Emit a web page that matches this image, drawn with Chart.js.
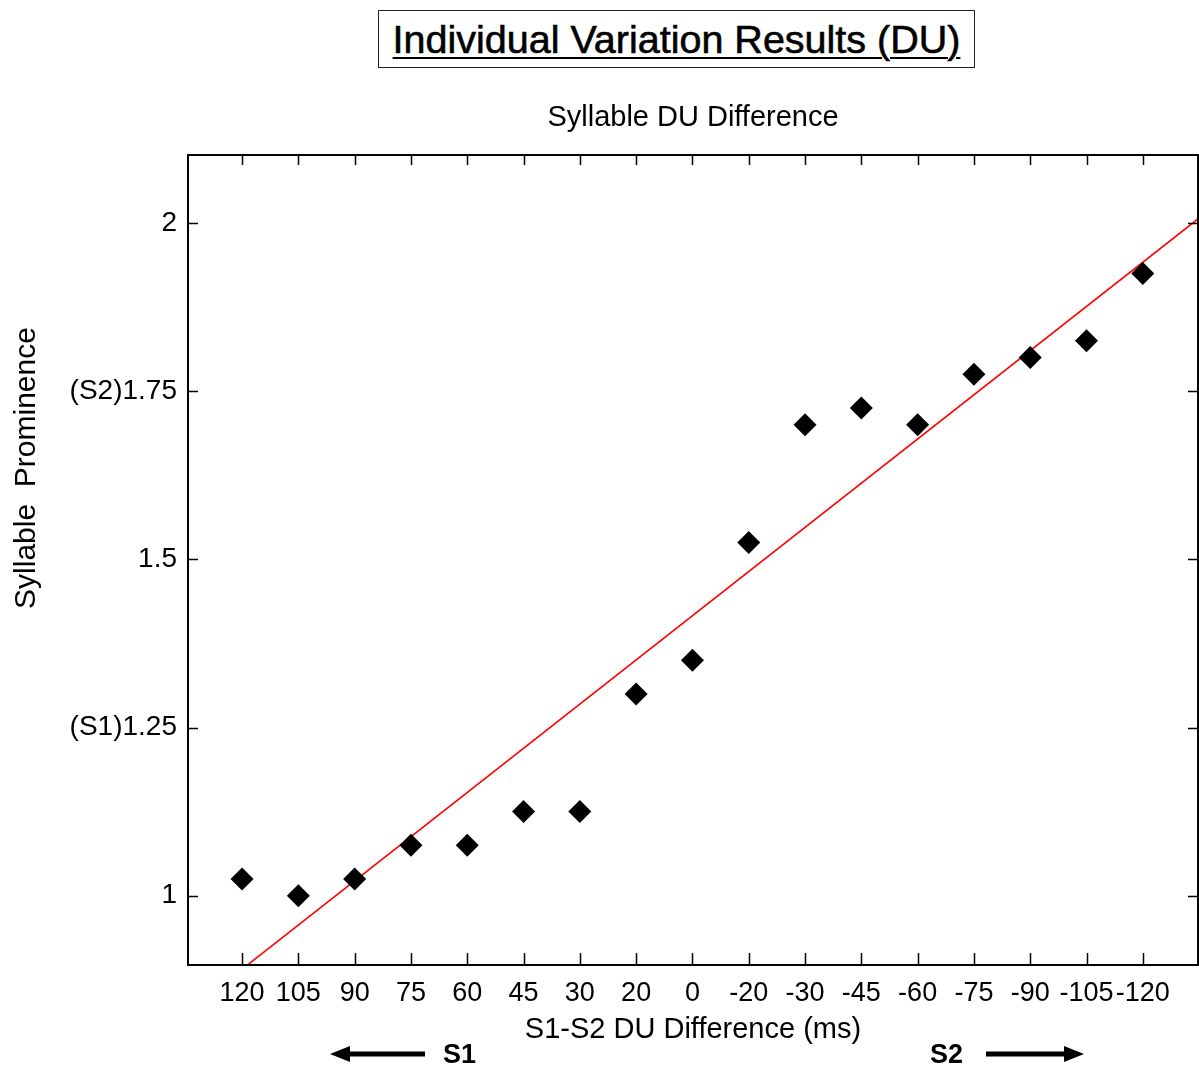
<!DOCTYPE html>
<html>
<head>
<meta charset="utf-8">
<script src="https://cdn.jsdelivr.net/npm/chart.js@4/dist/chart.umd.min.js"></script>
<style>
  body { margin: 0; background: #fff; }
  #wrap { position: relative; width: 1199px; height: 1078px; }
  #title {
    position: absolute; left: 378px; top: 10px; width: 595px; height: 56px;
    border: 1.5px solid #222; box-sizing: content-box;
    font: 39.5px 'Liberation Sans', Arial, sans-serif; color: #000;
    text-align: center; line-height: 56px; text-decoration: underline;
    text-underline-offset: 4px; text-decoration-thickness: 2px;
    -webkit-text-stroke: 0.6px #000;
  }
  canvas { position: absolute; left: 0; top: 0; }
</style>
</head>
<body>
<div id="wrap">
  <div id="title">Individual Variation Results (DU)</div>
  <canvas id="chart" width="1199" height="1078"></canvas>
</div>
<script>
const xLabels = ['120', '105', '90', '75', '60', '45', '30', '20', '0', '-20', '-30', '-45', '-60', '-75', '-90', '-105', '-120']
const prominence = [1.025, 1.0, 1.025, 1.075, 1.075, 1.125, 1.125, 1.3, 1.35, 1.525, 1.7, 1.725, 1.7, 1.775, 1.8, 1.825, 1.925]
const yTicks = [1, 1.25, 1.5, 1.75, 2]
const yTickLabels = ['1', '(S1)1.25', '1.5', '(S2)1.75', '2']

const FONT = "'Liberation Sans', Arial, sans-serif"
const xMin = -0.96
const xMax = 16.98

// least squares fit over the category index
const n = prominence.length
const mx = (n - 1) / 2
const my = prominence.reduce((a, b) => a + b, 0) / n
let sxy = 0, sxx = 0
prominence.forEach((y, i) => { sxy += (i - mx) * (y - my); sxx += (i - mx) * (i - mx) })
const slope = sxy / sxx
const fit = x => my + slope * (x - mx)

const framePlugin = {
  id: 'frame',
  afterDraw(chart) {
    const { ctx, chartArea: a, scales } = chart
    ctx.save()
    ctx.strokeStyle = '#000'
    ctx.lineWidth = 2
    ctx.strokeRect(a.left, a.top, a.right - a.left, a.bottom - a.top)
    ctx.lineWidth = 1.5
    ctx.beginPath()
    scales.y.ticks.forEach(t => {
      const py = Math.round(scales.y.getPixelForValue(t.value)) + 0.5
      ctx.moveTo(a.left, py); ctx.lineTo(a.left + 10, py)
      ctx.moveTo(a.right, py); ctx.lineTo(a.right - 10, py)
    })
    scales.x.ticks.forEach(t => {
      const px = Math.round(scales.x.getPixelForValue(t.value)) + 0.5
      ctx.moveTo(px, a.bottom); ctx.lineTo(px, a.bottom - 12)
      ctx.moveTo(px, a.top); ctx.lineTo(px, a.top + 10)
    })
    ctx.stroke()

    ctx.fillStyle = '#000'
    ctx.textAlign = 'center'
    ctx.textBaseline = 'middle'
    ctx.font = '29px ' + FONT
    ctx.fillText('Syllable DU Difference', (a.left + a.right) / 2, 118)
    ctx.fillText('S1-S2 DU Difference (ms)', (a.left + a.right) / 2, 1030)

    ctx.save()
    ctx.translate(27, 468)
    ctx.rotate(-Math.PI / 2)
    ctx.font = '30px ' + FONT
    ctx.fillText('Syllable  Prominence', 0, 0)
    ctx.restore()

    // direction arrows under the axis
    ctx.font = 'bold 27px ' + FONT
    ctx.textAlign = 'left'
    ctx.fillText('S1', 443, 1056)
    ctx.fillText('S2', 930, 1056)
    const arrow = (x0, x1, y) => {
      const dir = Math.sign(x1 - x0)
      ctx.lineWidth = 5
      ctx.beginPath(); ctx.moveTo(x0, y); ctx.lineTo(x1 - dir * 14, y); ctx.stroke()
      ctx.beginPath()
      ctx.moveTo(x1, y); ctx.lineTo(x1 - dir * 20, y - 8); ctx.lineTo(x1 - dir * 20, y + 8)
      ctx.closePath(); ctx.fill()
    }
    arrow(425, 330, 1054)
    arrow(986, 1084, 1054)
    ctx.restore()
  },
}

new Chart(document.getElementById('chart'), {
  type: 'scatter',
  data: {
    datasets: [
      {
        label: 'Prominence',
        data: prominence.map((y, i) => ({ x: i, y })),
        pointStyle: 'rectRot',
        pointRadius: 11.5,
        pointHoverRadius: 11.5,
        backgroundColor: '#000',
        borderWidth: 0,
      },
      {
        type: 'line',
        label: 'Fit',
        data: [{ x: xMin, y: fit(xMin) }, { x: xMax, y: fit(xMax) }],
        borderColor: '#ff0000',
        borderWidth: 1.6,
        pointRadius: 0,
        fill: false,
      },
    ],
  },
  options: {
    responsive: false,
    devicePixelRatio: 1,
    animation: false,
    layout: { autoPadding: false, padding: { top: 155, right: 1, left: 0, bottom: 0 } },
    plugins: { legend: { display: false }, tooltip: { enabled: false }, title: { display: false } },
    scales: {
      x: {
        type: 'linear',
        min: xMin,
        max: xMax,
        afterFit: s => { s.height = 113; s.paddingLeft = 0; s.paddingRight = 0 },
        afterBuildTicks: s => { s.ticks = xLabels.map((_, i) => ({ value: i })) },
        grid: { drawOnChartArea: false, drawTicks: false },
        border: { display: false },
        ticks: {
          padding: 12,
          maxRotation: 0,
          autoSkip: false,
          color: '#000',
          font: { family: FONT, size: 27 },
          callback: v => xLabels[v],
        },
      },
      y: {
        min: 0.897,
        max: 2.101,
        afterFit: s => { s.width = 188; s.paddingTop = 0; s.paddingBottom = 0 },
        afterBuildTicks: s => { s.ticks = yTicks.map(v => ({ value: v })) },
        grid: { drawOnChartArea: false, drawTicks: false },
        border: { display: false },
        ticks: {
          padding: 11,
          color: '#000',
          font: { family: FONT, size: 28 },
          callback: v => yTickLabels[yTicks.indexOf(v)],
        },
      },
    },
  },
  plugins: [framePlugin],
})
</script>
</body>
</html>
